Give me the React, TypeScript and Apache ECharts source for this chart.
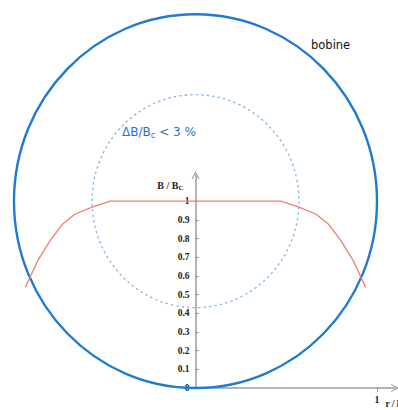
import React, { useEffect, useRef } from "react";
import * as echarts from "echarts";

// Normalised field profile B/Bc along the radius r/l
const rValues = [-0.937, -0.87, -0.8, -0.733, -0.665, -0.57, -0.47, 0, 0.47, 0.57, 0.665, 0.733, 0.8, 0.87, 0.937];
const bValues = [0.54, 0.68, 0.79, 0.877, 0.93, 0.968, 1.0, 1.0, 1.0, 0.968, 0.93, 0.877, 0.79, 0.68, 0.54];

// Circles in data units: [centre r, centre B, radius]
const coil = [0, 1, 1];
const uniformZone = [0, 1, 0.57];

const yTicks = [0, 0.1, 0.2, 0.3, 0.4, 0.5, 0.6, 0.7, 0.8, 0.9, 1];
const xTicks = [1];

const arrow = "path://M0,10 L5,0 L10,10 L8.6,10 L5,2.8 L1.4,10 Z";
const axisGrey = "#9b9b9b";
const serif = "Liberation Serif";

export default function App() {
  const ref = useRef<HTMLDivElement>(null);

  useEffect(() => {
    if (!ref.current) return;
    const chart = echarts.init(ref.current, undefined, { renderer: "svg" });

    const circleStyles = [
      { stroke: "#1f7bd1", lineWidth: 2.4, lineDash: null },
      { stroke: "#86b8ea", lineWidth: 1.3, lineDash: [2.5, 3] },
    ];

    const labelFont = { fontFamily: serif, fontWeight: "bold", color: "#222" };

    chart.setOption({
      animation: false,
      grid: [
        // plotting area spanning both signs of r
        { left: 0, right: 2.85, top: 175, bottom: 22, outerBoundsMode: "none" },
        // quadrant r >= 0 carrying the drawn axes
        { left: 195.5, right: 2.85, top: 175, bottom: 22, outerBoundsMode: "none" },
      ],
      xAxis: [
        {
          type: "value",
          gridIndex: 0,
          min: -1.0771,
          max: 1.1,
          show: false,
        },
        {
          type: "value",
          gridIndex: 1,
          min: 0,
          max: 1.1,
          axisLine: {
            show: true,
            onZero: false,
            symbol: ["none", arrow],
            symbolSize: [10, 8],
            lineStyle: { color: axisGrey, width: 1.5 },
          },
          axisTick: { show: true, customValues: xTicks, length: 4, lineStyle: { color: axisGrey } },
          axisLabel: { customValues: xTicks, ...labelFont, fontSize: 10, margin: 6 },
          splitLine: { show: false },
          name: "r / l",
          nameLocation: "end",
          nameGap: -17,
          nameTextStyle: {
            ...labelFont,
            fontSize: 9.5,
            verticalAlign: "top",
            padding: [11, 0, 0, 0],
          },
        },
      ],
      yAxis: [
        {
          type: "value",
          gridIndex: 0,
          min: 0,
          max: 1.14,
          show: false,
        },
        {
          type: "value",
          gridIndex: 1,
          min: 0,
          max: 1.14,
          interval: 0.1,
          axisLine: {
            show: true,
            onZero: false,
            symbol: ["none", arrow],
            symbolSize: [10, 8],
            lineStyle: { color: axisGrey, width: 1.5 },
          },
          axisTick: { show: true, inside: true, length: 3, customValues: yTicks, lineStyle: { color: "#888" } },
          axisLabel: {
            customValues: yTicks,
            formatter: (v: number) => String(Math.round(v * 10) / 10),
            ...labelFont,
            fontSize: 9.5,
            margin: 6,
          },
          splitLine: { show: false },
          name: "{a|B / B}{s|C}",
          nameLocation: "end",
          nameGap: -10,
          nameTextStyle: {
            align: "right",
            verticalAlign: "middle",
            padding: [0, 12, 0, 0],
            rich: {
              a: { ...labelFont, fontSize: 10 },
              s: { ...labelFont, fontSize: 7, padding: [5, 0, 0, 0] },
            },
          },
        },
      ],
      series: [
        {
          type: "custom",
          clip: false,
          silent: true,
          xAxisIndex: 0,
          yAxisIndex: 0,
          encode: { x: 0, y: 1 },
          data: [coil, uniformZone],
          renderItem: (params: any, api: any) => {
            const c = api.coord([api.value(0), api.value(1)]);
            const s = api.size([api.value(2), api.value(2)]);
            const st = circleStyles[params.dataIndex];
            return {
              type: "ellipse",
              shape: { cx: c[0], cy: c[1], rx: s[0], ry: s[1] },
              style: { fill: "none", stroke: st.stroke, lineWidth: st.lineWidth, lineDash: st.lineDash },
            };
          },
        },
        {
          type: "line",
          xAxisIndex: 0,
          yAxisIndex: 0,
          clip: false,
          showSymbol: false,
          data: rValues.map((r, i) => [r, bValues[i]]),
          lineStyle: { color: "#f27c72", width: 1.3 },
          z: 3,
        },
      ],
      graphic: [
        {
          type: "text",
          left: 311,
          top: 39,
          style: { text: "bobine", fontFamily: "DejaVu Sans", fontSize: 11.5, fill: "#111" },
        },
        {
          type: "text",
          left: 122,
          top: 126,
          style: {
            text: "{a|ΔB/B}{s|c}{a| < 3 %}",
            rich: {
              a: { fontFamily: "DejaVu Sans", fontSize: 12, fill: "#2474c4" },
              s: { fontFamily: "DejaVu Sans", fontSize: 8.5, fill: "#2474c4", padding: [5, 0, 0, 0] },
            },
          },
        },
      ],
    });

    return () => chart.dispose();
  }, []);

  return <div ref={ref} style={{ position: "absolute", left: 0, top: 0, width: 398, height: 410 }} />;
}
